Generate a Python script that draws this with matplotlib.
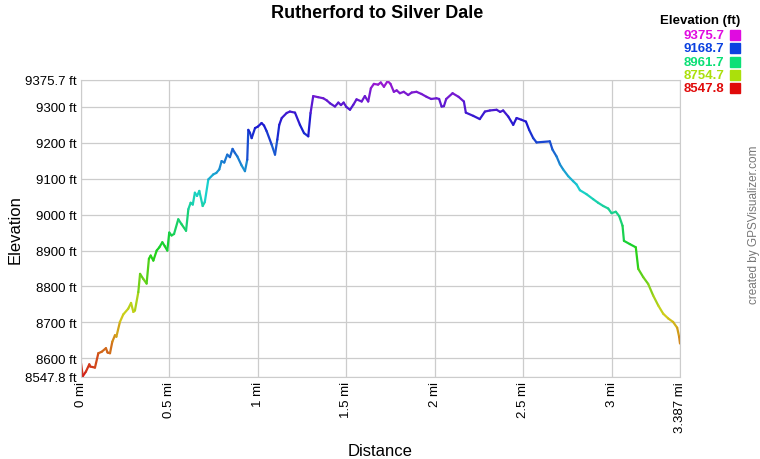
"""Elevation profile: Rutherford to Silver Dale (GPSVisualizer style)."""
import colorsys

import numpy as np
import matplotlib
matplotlib.use("Agg")
import matplotlib.pyplot as plt
from matplotlib.collections import LineCollection

plt.rcParams["font.family"] = ["Liberation Sans", "DejaVu Sans"]

# profile: distance (mi), elevation (ft)
dist_mi = [
    0.000, 0.010, 0.028, 0.047, 0.052, 0.079, 0.098, 0.117, 0.141, 0.150,
    0.164, 0.177, 0.192, 0.200, 0.220, 0.239, 0.267, 0.283, 0.296, 0.305,
    0.324, 0.334, 0.352, 0.371, 0.384, 0.394, 0.409, 0.428, 0.443, 0.460,
    0.474, 0.488, 0.499, 0.512, 0.526, 0.550, 0.569, 0.594, 0.607, 0.620,
    0.632, 0.644, 0.656, 0.669, 0.688, 0.700, 0.720, 0.748, 0.765, 0.782,
    0.795, 0.810, 0.827, 0.842, 0.857, 0.870, 0.884, 0.908, 0.927, 0.940,
    0.946, 0.955, 0.965, 0.984, 1.000, 1.021, 1.035, 1.050, 1.078, 1.097,
    1.110, 1.121, 1.135, 1.163, 1.181, 1.210, 1.238, 1.261, 1.285, 1.298,
    1.313, 1.341, 1.370, 1.390, 1.408, 1.436, 1.455, 1.470, 1.485, 1.500,
    1.521, 1.540, 1.558, 1.587, 1.605, 1.624, 1.639, 1.656, 1.680, 1.695,
    1.713, 1.734, 1.750, 1.769, 1.785, 1.803, 1.825, 1.850, 1.870, 1.897,
    1.925, 1.954, 1.980, 2.010, 2.025, 2.039, 2.052, 2.065, 2.101, 2.135,
    2.165, 2.176, 2.218, 2.255, 2.284, 2.312, 2.350, 2.370, 2.387, 2.416,
    2.444, 2.463, 2.491, 2.516, 2.534, 2.557, 2.576, 2.651, 2.666, 2.689,
    2.708, 2.726, 2.755, 2.783, 2.802, 2.821, 2.858, 2.896, 2.924, 2.953,
    2.981, 3.000, 3.024, 3.043, 3.062, 3.070, 3.103, 3.137, 3.151, 3.179,
    3.207, 3.235, 3.264, 3.292, 3.320, 3.348, 3.371, 3.382, 3.387,
]
elev_ft = [
    8586, 8550, 8563, 8583, 8577, 8574, 8614, 8618, 8628, 8616,
    8614, 8646, 8664, 8660, 8701, 8722, 8738, 8754, 8729, 8733,
    8784, 8835, 8821, 8808, 8877, 8886, 8872, 8900, 8909, 8923,
    8912, 8900, 8950, 8942, 8946, 8987, 8973, 8955, 9015, 9033,
    9028, 9061, 9052, 9066, 9024, 9035, 9098, 9112, 9116, 9126,
    9149, 9145, 9167, 9160, 9183, 9172, 9162, 9137, 9121, 9153,
    9236, 9228, 9213, 9241, 9245, 9255, 9248, 9232, 9195, 9167,
    9209, 9250, 9269, 9283, 9287, 9284, 9250, 9227, 9218, 9283,
    9330, 9327, 9324, 9318, 9310, 9301, 9312, 9305, 9312, 9300,
    9292, 9306, 9321, 9315, 9330, 9315, 9352, 9364, 9362, 9368,
    9356, 9372, 9364, 9342, 9346, 9338, 9342, 9333, 9340, 9342,
    9336, 9328, 9322, 9324, 9322, 9301, 9302, 9322, 9338, 9328,
    9315, 9284, 9275, 9266, 9287, 9290, 9292, 9286, 9290, 9273,
    9250, 9269, 9264, 9259, 9236, 9213, 9201, 9204, 9181, 9162,
    9140, 9126, 9107, 9093, 9084, 9068, 9057, 9043, 9033, 9024,
    9017, 9004, 9008, 8996, 8969, 8927, 8918, 8909, 8849, 8826,
    8807, 8775, 8747, 8724, 8711, 8701, 8685, 8660, 8641,
]

ELEV_MIN, ELEV_MAX = 8547.8, 9375.7
DIST_MAX = 3.387
xtick_vals = [0, 0.5, 1, 1.5, 2, 2.5, 3, DIST_MAX]
xtick_labels = ["0 mi", "0.5 mi", "1 mi", "1.5 mi", "2 mi", "2.5 mi", "3 mi", "3.387 mi"]
ytick_vals = [ELEV_MIN, 8600, 8700, 8800, 8900, 9000, 9100, 9200, 9300, ELEV_MAX]
ytick_labels = ["8547.8 ft", "8600 ft", "8700 ft", "8800 ft", "8900 ft", "9000 ft",
                "9100 ft", "9200 ft", "9300 ft", "9375.7 ft"]
legend_vals = [9375.7, 9168.7, 8961.7, 8754.7, 8547.8]


def hue_color(e, sat=1.0, val=1.0, hue_top=300.0):
    frac = (e - ELEV_MIN) / (ELEV_MAX - ELEV_MIN)
    frac = min(max(frac, 0.0), 1.0)
    return colorsys.hsv_to_rgb(frac * hue_top / 360.0, sat, val)


fig = plt.figure(figsize=(7.6, 4.6), dpi=100)
ax = fig.add_axes([81 / 760, 1 - 378 / 460, 599 / 760, (378 - 80.7) / 460])

x = np.array(dist_mi)
y = np.array(elev_ft)
pts = np.column_stack([x, y]).reshape(-1, 1, 2)
segs = np.concatenate([pts[:-1], pts[1:]], axis=1)
mid = (y[:-1] + y[1:]) / 2
cols = [hue_color(e, sat=0.88, val=0.82, hue_top=285) for e in mid]
ax.add_collection(LineCollection(segs, colors=cols, linewidths=1.6, capstyle="round"))

ax.set_xlim(0, DIST_MAX)
ax.set_ylim(ELEV_MIN, ELEV_MAX)
ax.set_xticks(xtick_vals)
ax.set_xticklabels(xtick_labels, rotation=90, fontsize=9.5)
ax.set_yticks(ytick_vals)
ax.set_yticklabels(ytick_labels, fontsize=9.5)
ax.tick_params(length=0, pad=3)
ax.grid(True, color="#cccccc", lw=0.9)
ax.set_axisbelow(True)
for sp in ax.spines.values():
    sp.set_color("#cccccc")

ax.set_xlabel("Distance", fontsize=12, labelpad=8)
ax.set_ylabel("Elevation", fontsize=12)
ax.yaxis.set_label_coords(-0.097, 0.5)

fig.text(377 / 760, 1 - 14 / 460, "Rutherford to Silver Dale", ha="center", va="center",
         fontsize=13, fontweight="bold")

# elevation legend
fig.text(740 / 760, 1 - 21 / 460, "Elevation (ft)", ha="right", va="center",
         fontsize=9.5, fontweight="bold")
for i, v in enumerate(legend_vals):
    yy = 1 - (36 + i * 13.3) / 460
    c = hue_color(v, sat=0.95, val=0.88)
    fig.text(724 / 760, yy, f"{v:.1f}", ha="right", va="center", fontsize=9.5,
             fontweight="bold", color=c)
    fig.patches.append(plt.Rectangle((730 / 760, yy - 5 / 460), 10 / 760, 10 / 460,
                                     transform=fig.transFigure, color=c))

fig.text(754 / 760, 1 - 225 / 460, "created by GPSVisualizer.com", rotation=90,
         ha="center", va="center", fontsize=8.5, color="#777777")

fig.savefig("out.png", dpi=100)
